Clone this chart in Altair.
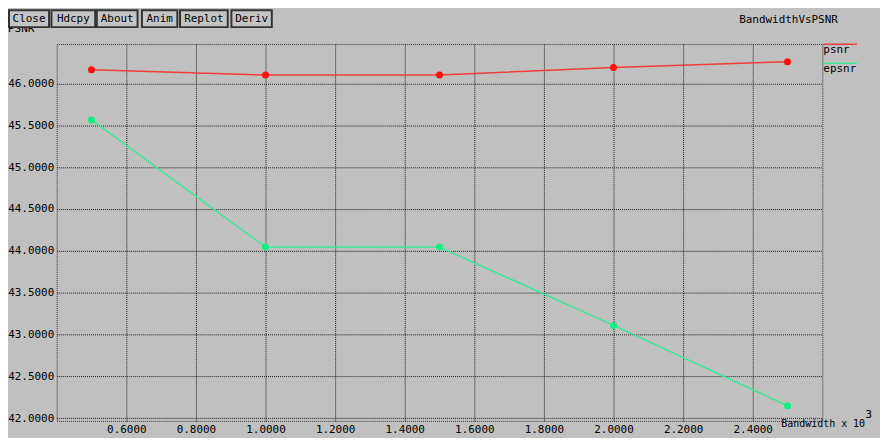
import altair as alt
import pandas as pd

# ---- data ----
BANDWIDTH = [0.5, 1.0, 1.5, 2.0, 2.5]
PSNR = [46.163, 46.100, 46.100, 46.190, 46.258]
EPSNR = [45.564, 44.045, 44.045, 43.110, 42.150]
SERIES = ["psnr", "epsnr"]
X_TICKS = [0.6, 0.8, 1.0, 1.2, 1.4, 1.6, 1.8, 2.0, 2.2, 2.4]
Y_TICKS = [42.0, 42.5, 43.0, 43.5, 44.0, 44.5, 45.0, 45.5, 46.0]
BUTTONS = ["Close", "Hdcpy", "About", "Anim", "Replot", "Deriv"]
TITLE = "BandwidthVsPSNR"
X_TITLE = "Bandwidth x 10"
X_TITLE_EXP = "3"
Y_TITLE = "PSNR"

LINE_COLORS = ["#f03c3c", "#3ce896"]
POINT_COLORS = ["#ff1010", "#10f082"]
FONT = "DejaVu Sans Mono"

# ---- layout ----
W, H = 770, 379
PAD = {"left": 49, "top": 35, "right": 58, "bottom": 16}
BTN_X = [(-48, -7.7), (-5.3, 38.7), (40.3, 81.3), (85.7, 121.3), (124, 172), (175.7, 216.3)]
BTN_Y = (-34, -17)

rows = []
for s, vals in zip(SERIES, [PSNR, EPSNR]):
    for b, v in zip(BANDWIDTH, vals):
        rows.append({"bandwidth": b, "value": v, "series": s})
df = pd.DataFrame(rows)

xenc = alt.X("bandwidth:Q",
             scale=alt.Scale(domain=[0.4, 2.6], nice=False, zero=False),
             axis=alt.Axis(values=X_TICKS, format=".4f", title=None))
yenc = alt.Y("value:Q",
             scale=alt.Scale(domain=[41.97, 46.47], nice=False, zero=False),
             axis=alt.Axis(values=Y_TICKS, format=".4f", title=None))

base = alt.Chart(df)
lines = base.mark_line(strokeWidth=1.5).encode(
    x=xenc, y=yenc,
    color=alt.Color("series:N", scale=alt.Scale(domain=SERIES, range=LINE_COLORS), legend=None),
)
points = base.mark_circle(size=50, opacity=1).encode(
    x=xenc, y=yenc,
    color=alt.Color("series:N", scale=alt.Scale(domain=SERIES, range=POINT_COLORS), legend=None),
)

dummy = alt.Chart(pd.DataFrame({"d": [0]}))

def txt(t, x, y, size=11, align="left"):
    return dummy.mark_text(font=FONT, fontSize=size, align=align, baseline="middle", color="#000").encode(
        x=alt.value(x), y=alt.value(y), text=alt.value(t))

layers = [lines, points]

# legend
for i, s in enumerate(SERIES):
    yy = 0.3 + 19 * i
    layers.append(dummy.mark_rule(color=LINE_COLORS[i], strokeWidth=1.5).encode(
        x=alt.value(770.7), x2=alt.value(804.7), y=alt.value(yy)))
    layers.append(txt(s, 771, yy + 6))

layers.append(txt(TITLE, 736, -24.5, align="center"))
layers.append(txt(X_TITLE, 813, 382.5, size=10, align="right"))
layers.append(txt(X_TITLE_EXP, 813.5, 373.5, size=11))
layers.append(txt(Y_TITLE, -49, -15))

# buttons
for lab, (x0, x1) in zip(BUTTONS, BTN_X):
    layers.append(dummy.mark_rect(fill="#c4c4c4", stroke="#333333", strokeWidth=2).encode(
        x=alt.value(x0), x2=alt.value(x1), y=alt.value(BTN_Y[0]), y2=alt.value(BTN_Y[1])))
    layers.append(txt(lab, (x0 + x1) / 2, (BTN_Y[0] + BTN_Y[1]) / 2 + 0.5, size=11, align="center"))

chart = alt.layer(*layers).resolve_scale(color="independent").properties(
    width=W, height=H,
    autosize=alt.AutoSizeParams(type="none"),
    padding=PAD,
).configure(
    background="#c0c0c0",
).configure_view(
    stroke="#303030", strokeDash=[1, 1], strokeWidth=1,
).configure_axis(
    domain=False, ticks=False, grid=True,
    gridColor="#181818", gridDash=[1, 1], gridOpacity=1, gridWidth=1,
    labelFont=FONT, labelFontSize=11, labelColor="#000", labelPadding=3,
)

chart.save("out.html", embed_options={"renderer": "svg", "actions": False})
